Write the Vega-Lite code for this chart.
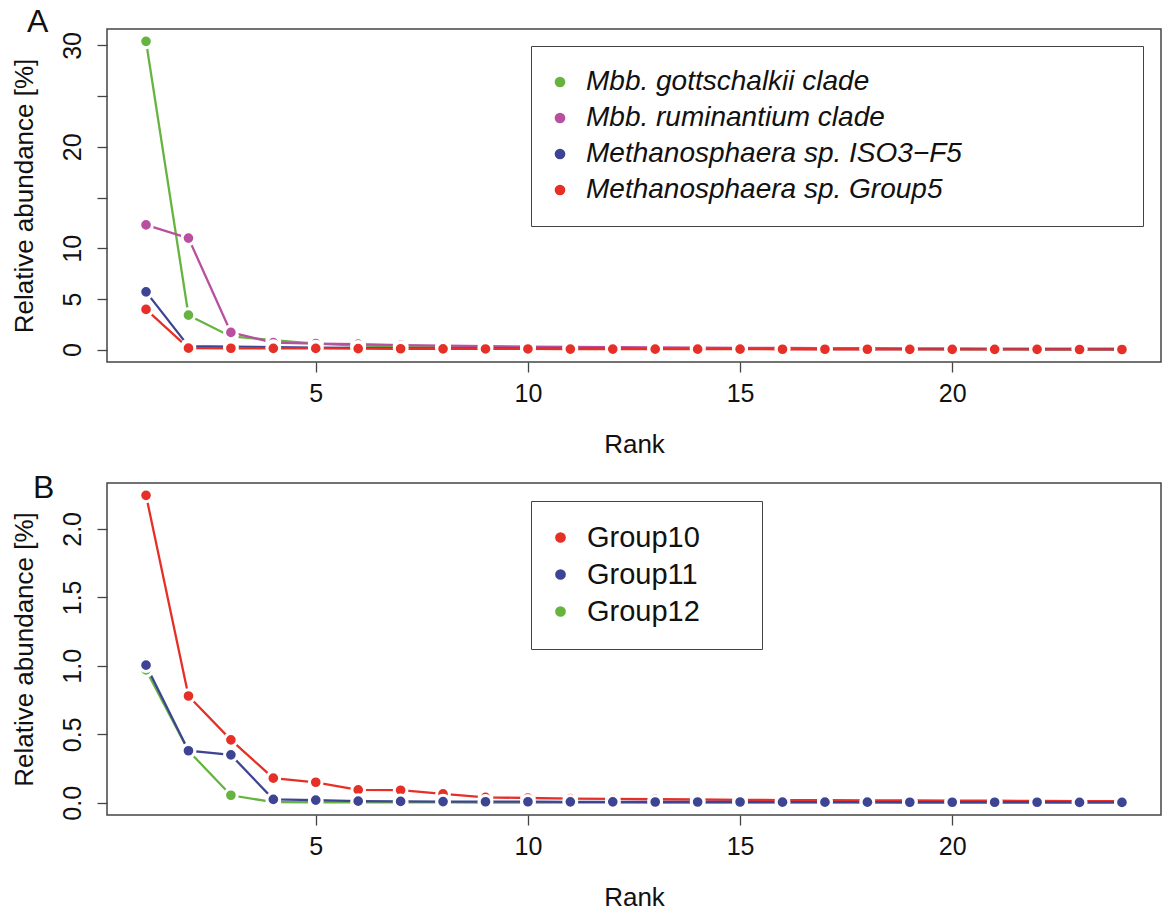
{
  "$schema": "https://vega.github.io/schema/vega-lite/v6.json",
  "padding": {"left": 10, "top": 5, "right": 0, "bottom": 5},
  "spacing": 13,
  "config": {
    "font": "Liberation Sans",
    "view": {"stroke": "#444", "strokeWidth": 1.5},
    "axis": {"domain": false, "grid": false, "tickSize": 10, "tickColor": "#444", "tickWidth": 1.3, "labelFontSize": 25, "titleFontSize": 26, "titleFontWeight": "normal", "labelColor": "#111", "titleColor": "#111"},
    "title": {"fontSize": 32, "fontWeight": "normal", "anchor": "start", "frame": "group", "color": "#111"}
  },
  "datasets": {
    "a": [
      {"series": "Mbb. gottschalkii clade", "rank": 1, "abundance": 30.4},
      {"series": "Mbb. gottschalkii clade", "rank": 2, "abundance": 3.4},
      {"series": "Mbb. gottschalkii clade", "rank": 3, "abundance": 1.3},
      {"series": "Mbb. gottschalkii clade", "rank": 4, "abundance": 0.95},
      {"series": "Mbb. gottschalkii clade", "rank": 5, "abundance": 0.6},
      {"series": "Mbb. gottschalkii clade", "rank": 6, "abundance": 0.4},
      {"series": "Mbb. gottschalkii clade", "rank": 7, "abundance": 0.35},
      {"series": "Mbb. gottschalkii clade", "rank": 8, "abundance": 0.3},
      {"series": "Mbb. gottschalkii clade", "rank": 9, "abundance": 0.25},
      {"series": "Mbb. gottschalkii clade", "rank": 10, "abundance": 0.2},
      {"series": "Mbb. gottschalkii clade", "rank": 11, "abundance": 0.18},
      {"series": "Mbb. gottschalkii clade", "rank": 12, "abundance": 0.16},
      {"series": "Mbb. gottschalkii clade", "rank": 13, "abundance": 0.14},
      {"series": "Mbb. gottschalkii clade", "rank": 14, "abundance": 0.12},
      {"series": "Mbb. gottschalkii clade", "rank": 15, "abundance": 0.11},
      {"series": "Mbb. gottschalkii clade", "rank": 16, "abundance": 0.1},
      {"series": "Mbb. gottschalkii clade", "rank": 17, "abundance": 0.09},
      {"series": "Mbb. gottschalkii clade", "rank": 18, "abundance": 0.08},
      {"series": "Mbb. gottschalkii clade", "rank": 19, "abundance": 0.07},
      {"series": "Mbb. gottschalkii clade", "rank": 20, "abundance": 0.06},
      {"series": "Mbb. gottschalkii clade", "rank": 21, "abundance": 0.06},
      {"series": "Mbb. gottschalkii clade", "rank": 22, "abundance": 0.05},
      {"series": "Mbb. gottschalkii clade", "rank": 23, "abundance": 0.05},
      {"series": "Mbb. gottschalkii clade", "rank": 24, "abundance": 0.04},
      {"series": "Mbb. ruminantium clade", "rank": 1, "abundance": 12.3},
      {"series": "Mbb. ruminantium clade", "rank": 2, "abundance": 11.0},
      {"series": "Mbb. ruminantium clade", "rank": 3, "abundance": 1.7},
      {"series": "Mbb. ruminantium clade", "rank": 4, "abundance": 0.7},
      {"series": "Mbb. ruminantium clade", "rank": 5, "abundance": 0.6},
      {"series": "Mbb. ruminantium clade", "rank": 6, "abundance": 0.55},
      {"series": "Mbb. ruminantium clade", "rank": 7, "abundance": 0.45},
      {"series": "Mbb. ruminantium clade", "rank": 8, "abundance": 0.4},
      {"series": "Mbb. ruminantium clade", "rank": 9, "abundance": 0.35},
      {"series": "Mbb. ruminantium clade", "rank": 10, "abundance": 0.3},
      {"series": "Mbb. ruminantium clade", "rank": 11, "abundance": 0.27},
      {"series": "Mbb. ruminantium clade", "rank": 12, "abundance": 0.25},
      {"series": "Mbb. ruminantium clade", "rank": 13, "abundance": 0.22},
      {"series": "Mbb. ruminantium clade", "rank": 14, "abundance": 0.2},
      {"series": "Mbb. ruminantium clade", "rank": 15, "abundance": 0.18},
      {"series": "Mbb. ruminantium clade", "rank": 16, "abundance": 0.17},
      {"series": "Mbb. ruminantium clade", "rank": 17, "abundance": 0.15},
      {"series": "Mbb. ruminantium clade", "rank": 18, "abundance": 0.14},
      {"series": "Mbb. ruminantium clade", "rank": 19, "abundance": 0.13},
      {"series": "Mbb. ruminantium clade", "rank": 20, "abundance": 0.12},
      {"series": "Mbb. ruminantium clade", "rank": 21, "abundance": 0.11},
      {"series": "Mbb. ruminantium clade", "rank": 22, "abundance": 0.1},
      {"series": "Mbb. ruminantium clade", "rank": 23, "abundance": 0.1},
      {"series": "Mbb. ruminantium clade", "rank": 24, "abundance": 0.09},
      {"series": "Methanosphaera sp. ISO3−F5", "rank": 1, "abundance": 5.7},
      {"series": "Methanosphaera sp. ISO3−F5", "rank": 2, "abundance": 0.35},
      {"series": "Methanosphaera sp. ISO3−F5", "rank": 3, "abundance": 0.3},
      {"series": "Methanosphaera sp. ISO3−F5", "rank": 4, "abundance": 0.25},
      {"series": "Methanosphaera sp. ISO3−F5", "rank": 5, "abundance": 0.2},
      {"series": "Methanosphaera sp. ISO3−F5", "rank": 6, "abundance": 0.18},
      {"series": "Methanosphaera sp. ISO3−F5", "rank": 7, "abundance": 0.15},
      {"series": "Methanosphaera sp. ISO3−F5", "rank": 8, "abundance": 0.13},
      {"series": "Methanosphaera sp. ISO3−F5", "rank": 9, "abundance": 0.12},
      {"series": "Methanosphaera sp. ISO3−F5", "rank": 10, "abundance": 0.11},
      {"series": "Methanosphaera sp. ISO3−F5", "rank": 11, "abundance": 0.1},
      {"series": "Methanosphaera sp. ISO3−F5", "rank": 12, "abundance": 0.09},
      {"series": "Methanosphaera sp. ISO3−F5", "rank": 13, "abundance": 0.08},
      {"series": "Methanosphaera sp. ISO3−F5", "rank": 14, "abundance": 0.08},
      {"series": "Methanosphaera sp. ISO3−F5", "rank": 15, "abundance": 0.07},
      {"series": "Methanosphaera sp. ISO3−F5", "rank": 16, "abundance": 0.07},
      {"series": "Methanosphaera sp. ISO3−F5", "rank": 17, "abundance": 0.06},
      {"series": "Methanosphaera sp. ISO3−F5", "rank": 18, "abundance": 0.06},
      {"series": "Methanosphaera sp. ISO3−F5", "rank": 19, "abundance": 0.05},
      {"series": "Methanosphaera sp. ISO3−F5", "rank": 20, "abundance": 0.05},
      {"series": "Methanosphaera sp. ISO3−F5", "rank": 21, "abundance": 0.05},
      {"series": "Methanosphaera sp. ISO3−F5", "rank": 22, "abundance": 0.04},
      {"series": "Methanosphaera sp. ISO3−F5", "rank": 23, "abundance": 0.04},
      {"series": "Methanosphaera sp. ISO3−F5", "rank": 24, "abundance": 0.04},
      {"series": "Methanosphaera sp. Group5", "rank": 1, "abundance": 3.97},
      {"series": "Methanosphaera sp. Group5", "rank": 2, "abundance": 0.15},
      {"series": "Methanosphaera sp. Group5", "rank": 3, "abundance": 0.14},
      {"series": "Methanosphaera sp. Group5", "rank": 4, "abundance": 0.13},
      {"series": "Methanosphaera sp. Group5", "rank": 5, "abundance": 0.12},
      {"series": "Methanosphaera sp. Group5", "rank": 6, "abundance": 0.1},
      {"series": "Methanosphaera sp. Group5", "rank": 7, "abundance": 0.09},
      {"series": "Methanosphaera sp. Group5", "rank": 8, "abundance": 0.08},
      {"series": "Methanosphaera sp. Group5", "rank": 9, "abundance": 0.07},
      {"series": "Methanosphaera sp. Group5", "rank": 10, "abundance": 0.07},
      {"series": "Methanosphaera sp. Group5", "rank": 11, "abundance": 0.06},
      {"series": "Methanosphaera sp. Group5", "rank": 12, "abundance": 0.06},
      {"series": "Methanosphaera sp. Group5", "rank": 13, "abundance": 0.05},
      {"series": "Methanosphaera sp. Group5", "rank": 14, "abundance": 0.05},
      {"series": "Methanosphaera sp. Group5", "rank": 15, "abundance": 0.05},
      {"series": "Methanosphaera sp. Group5", "rank": 16, "abundance": 0.04},
      {"series": "Methanosphaera sp. Group5", "rank": 17, "abundance": 0.04},
      {"series": "Methanosphaera sp. Group5", "rank": 18, "abundance": 0.04},
      {"series": "Methanosphaera sp. Group5", "rank": 19, "abundance": 0.03},
      {"series": "Methanosphaera sp. Group5", "rank": 20, "abundance": 0.03},
      {"series": "Methanosphaera sp. Group5", "rank": 21, "abundance": 0.03},
      {"series": "Methanosphaera sp. Group5", "rank": 22, "abundance": 0.03},
      {"series": "Methanosphaera sp. Group5", "rank": 23, "abundance": 0.02},
      {"series": "Methanosphaera sp. Group5", "rank": 24, "abundance": 0.02}
    ],
    "b": [
      {"series": "Group12", "rank": 1, "abundance": 0.97},
      {"series": "Group12", "rank": 2, "abundance": 0.38},
      {"series": "Group12", "rank": 3, "abundance": 0.055},
      {"series": "Group12", "rank": 4, "abundance": 0.005},
      {"series": "Group12", "rank": 5, "abundance": 0.004},
      {"series": "Group12", "rank": 6, "abundance": 0.003},
      {"series": "Group12", "rank": 7, "abundance": 0.003},
      {"series": "Group12", "rank": 8, "abundance": 0.003},
      {"series": "Group12", "rank": 9, "abundance": 0.002},
      {"series": "Group12", "rank": 10, "abundance": 0.002},
      {"series": "Group12", "rank": 11, "abundance": 0.002},
      {"series": "Group12", "rank": 12, "abundance": 0.002},
      {"series": "Group12", "rank": 13, "abundance": 0.002},
      {"series": "Group12", "rank": 14, "abundance": 0.002},
      {"series": "Group12", "rank": 15, "abundance": 0.002},
      {"series": "Group12", "rank": 16, "abundance": 0.001},
      {"series": "Group12", "rank": 17, "abundance": 0.001},
      {"series": "Group12", "rank": 18, "abundance": 0.001},
      {"series": "Group12", "rank": 19, "abundance": 0.001},
      {"series": "Group12", "rank": 20, "abundance": 0.001},
      {"series": "Group12", "rank": 21, "abundance": 0.001},
      {"series": "Group12", "rank": 22, "abundance": 0.001},
      {"series": "Group12", "rank": 23, "abundance": 0.001},
      {"series": "Group12", "rank": 24, "abundance": 0.001},
      {"series": "Group10", "rank": 1, "abundance": 2.245},
      {"series": "Group10", "rank": 2, "abundance": 0.78},
      {"series": "Group10", "rank": 3, "abundance": 0.46},
      {"series": "Group10", "rank": 4, "abundance": 0.18},
      {"series": "Group10", "rank": 5, "abundance": 0.15},
      {"series": "Group10", "rank": 6, "abundance": 0.094},
      {"series": "Group10", "rank": 7, "abundance": 0.092},
      {"series": "Group10", "rank": 8, "abundance": 0.065},
      {"series": "Group10", "rank": 9, "abundance": 0.04},
      {"series": "Group10", "rank": 10, "abundance": 0.035},
      {"series": "Group10", "rank": 11, "abundance": 0.03},
      {"series": "Group10", "rank": 12, "abundance": 0.028},
      {"series": "Group10", "rank": 13, "abundance": 0.026},
      {"series": "Group10", "rank": 14, "abundance": 0.024},
      {"series": "Group10", "rank": 15, "abundance": 0.022},
      {"series": "Group10", "rank": 16, "abundance": 0.02},
      {"series": "Group10", "rank": 17, "abundance": 0.019},
      {"series": "Group10", "rank": 18, "abundance": 0.018},
      {"series": "Group10", "rank": 19, "abundance": 0.017},
      {"series": "Group10", "rank": 20, "abundance": 0.016},
      {"series": "Group10", "rank": 21, "abundance": 0.015},
      {"series": "Group10", "rank": 22, "abundance": 0.014},
      {"series": "Group10", "rank": 23, "abundance": 0.013},
      {"series": "Group10", "rank": 24, "abundance": 0.012},
      {"series": "Group11", "rank": 1, "abundance": 1.005},
      {"series": "Group11", "rank": 2, "abundance": 0.38},
      {"series": "Group11", "rank": 3, "abundance": 0.35},
      {"series": "Group11", "rank": 4, "abundance": 0.025},
      {"series": "Group11", "rank": 5, "abundance": 0.02},
      {"series": "Group11", "rank": 6, "abundance": 0.012},
      {"series": "Group11", "rank": 7, "abundance": 0.01},
      {"series": "Group11", "rank": 8, "abundance": 0.009},
      {"series": "Group11", "rank": 9, "abundance": 0.008},
      {"series": "Group11", "rank": 10, "abundance": 0.008},
      {"series": "Group11", "rank": 11, "abundance": 0.007},
      {"series": "Group11", "rank": 12, "abundance": 0.007},
      {"series": "Group11", "rank": 13, "abundance": 0.006},
      {"series": "Group11", "rank": 14, "abundance": 0.006},
      {"series": "Group11", "rank": 15, "abundance": 0.006},
      {"series": "Group11", "rank": 16, "abundance": 0.005},
      {"series": "Group11", "rank": 17, "abundance": 0.005},
      {"series": "Group11", "rank": 18, "abundance": 0.005},
      {"series": "Group11", "rank": 19, "abundance": 0.004},
      {"series": "Group11", "rank": 20, "abundance": 0.004},
      {"series": "Group11", "rank": 21, "abundance": 0.004},
      {"series": "Group11", "rank": 22, "abundance": 0.004},
      {"series": "Group11", "rank": 23, "abundance": 0.003},
      {"series": "Group11", "rank": 24, "abundance": 0.003}
    ]
  },
  "vconcat": [
    {
      "width": 1054,
      "height": 333,
      "title": {"text": "A", "dx": -80, "baseline": "alphabetic", "offset": -35, "dy": 0},
      "data": {"name": "a"},
      "encoding": {
        "x": {"field": "rank", "type": "quantitative", "scale": {"domain": [0.08, 24.92], "nice": false, "zero": false},
              "axis": {"values": [5, 10, 15, 20], "title": "Rank", "labelPadding": 9, "titlePadding": 25, "labelFlush": false}},
        "y": {"field": "abundance", "type": "quantitative", "scale": {"domain": [-1.216, 31.616], "nice": false, "zero": false},
              "axis": {"values": [0, 5, 10, 15, 20, 25, 30], "labelExpr": "datum.value == 15 || datum.value == 25 ? '' : datum.label", "labelAngle": -90, "labelAlign": "center", "labelBaseline": "alphabetic", "labelPadding": 17, "title": "Relative abundance [%]", "titlePadding": 23}},
        "color": {"field": "series", "type": "nominal",
                  "scale": {"domain": ["Mbb. gottschalkii clade", "Mbb. ruminantium clade", "Methanosphaera sp. ISO3−F5", "Methanosphaera sp. Group5"], "range": ["#66B43F", "#B8509F", "#3E4494", "#E63027"]},
                  "legend": {"orient": "none", "legendX": 424, "legendY": 17, "title": "\u2003", "titleOrient": "right", "titleFontSize": 10, "titlePadding": 159, "strokeColor": "#444", "fillColor": "white", "padding": 22, "labelFontSize": 28, "labelFontStyle": "italic", "labelColor": "#111", "labelLimit": 1000, "symbolType": "circle", "symbolSize": 115, "symbolStrokeWidth": 0, "symbolOpacity": 1, "symbolOffset": -7, "labelOffset": 12, "rowPadding": 8}}
      },
      "layer": [
        {"mark": {"type": "line", "strokeWidth": 2.3}},
        {"mark": {"type": "point", "filled": true, "size": 160, "opacity": 1, "stroke": "white", "strokeWidth": 3}}
      ]
    },
    {
      "width": 1054,
      "height": 332,
      "title": {"text": "B", "dx": -74, "baseline": "alphabetic", "offset": -47, "dy": 0},
      "data": {"name": "b"},
      "encoding": {
        "x": {"field": "rank", "type": "quantitative", "scale": {"domain": [0.08, 24.92], "nice": false, "zero": false},
              "axis": {"values": [5, 10, 15, 20], "title": "Rank", "labelPadding": 9, "titlePadding": 25, "labelFlush": false}},
        "y": {"field": "abundance", "type": "quantitative", "scale": {"domain": [-0.089, 2.335], "nice": false, "zero": false},
              "axis": {"values": [0, 0.5, 1, 1.5, 2], "format": ".1f", "labelAngle": -90, "labelAlign": "center", "labelBaseline": "alphabetic", "labelPadding": 17, "title": "Relative abundance [%]", "titlePadding": 23}},
        "color": {"field": "series", "type": "nominal",
                  "scale": {"domain": ["Group10", "Group11", "Group12"], "range": ["#E63027", "#3E4494", "#66B43F"]},
                  "legend": {"orient": "none", "legendX": 424, "legendY": 18, "title": "\u2003", "titleOrient": "right", "titleFontSize": 10, "titlePadding": 40, "strokeColor": "#444", "fillColor": "white", "padding": 22, "labelFontSize": 29, "labelColor": "#111", "labelLimit": 1000, "symbolType": "circle", "symbolSize": 115, "symbolStrokeWidth": 0, "symbolOpacity": 1, "symbolOffset": -7, "labelOffset": 12, "rowPadding": 7}}
      },
      "layer": [
        {"mark": {"type": "line", "strokeWidth": 2.3}},
        {"mark": {"type": "point", "filled": true, "size": 160, "opacity": 1, "stroke": "white", "strokeWidth": 3}}
      ]
    }
  ],
  "resolve": {"scale": {"color": "independent", "x": "independent", "y": "independent"}, "legend": {"color": "independent"}}
}
